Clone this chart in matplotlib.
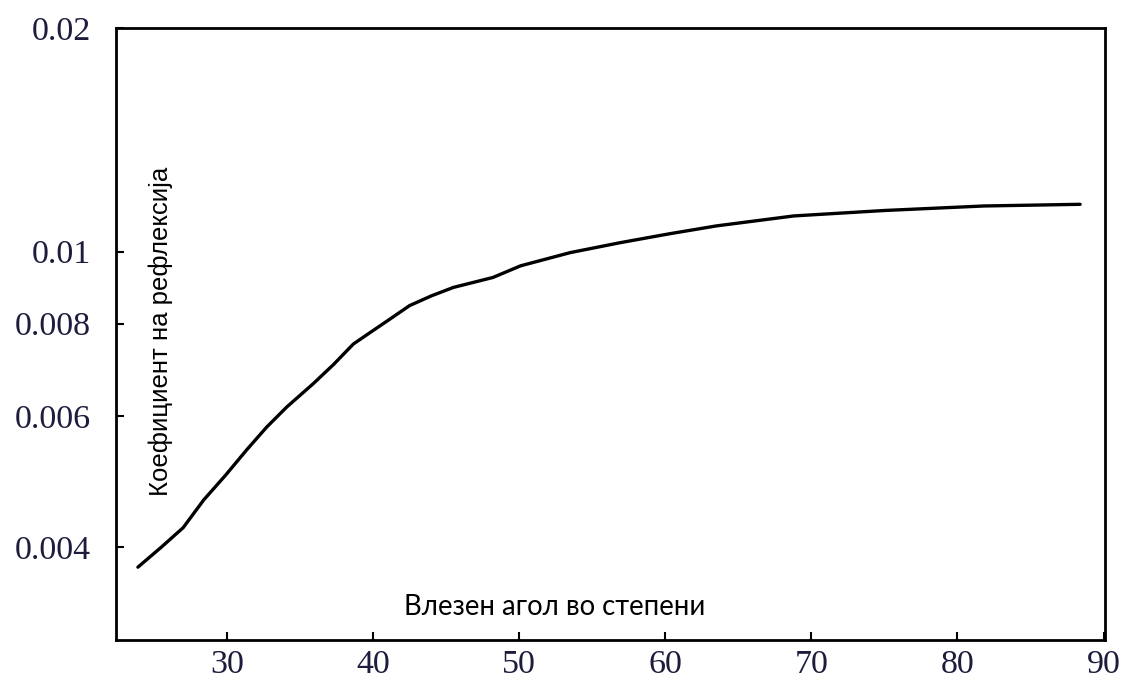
import matplotlib
matplotlib.use("Agg")
import matplotlib.pyplot as plt
from matplotlib.ticker import FixedLocator, FixedFormatter, NullLocator

# Data
angle_deg = [23.9, 25.5, 27.0, 28.4, 29.9, 31.35, 32.7, 34.1, 35.9, 37.3,
             38.65, 40.0, 41.3, 42.5, 44.0, 45.5, 48.2, 50.1, 53.5, 56.9,
             60.3, 63.5, 68.8, 75.0, 81.8, 88.4]
reflection = [0.00376, 0.00400, 0.00425, 0.00463, 0.00500, 0.00541, 0.00580,
              0.00618, 0.00664, 0.00705, 0.00751, 0.00783, 0.00815, 0.00846,
              0.00872, 0.00895, 0.00923, 0.00957, 0.00997, 0.01028, 0.01057,
              0.01083, 0.01117, 0.01136, 0.01152, 0.01158]

x_ticks = [30, 40, 50, 60, 70, 80, 90]
x_tick_labels = ["30", "40", "50", "60", "70", "80", "90"]
y_ticks = [0.004, 0.006, 0.008, 0.01, 0.02]
y_tick_labels = ["0.004", "0.006", "0.008", "0.01", "0.02"]

x_label = "Влезен агол во степени"
y_label = "Коефициент на рефлексија"

fig = plt.figure(figsize=(11.25, 6.87), dpi=100)
ax = fig.add_axes([0.1031, 0.0684, 0.8791, 0.8908])

ax.plot(angle_deg, reflection, color="black", linewidth=2.4,
        solid_capstyle="round", solid_joinstyle="round")

ax.set_yscale("log")
ax.set_xlim(22.4, 90.1)
ax.set_ylim(0.003, 0.02)

ax.yaxis.set_major_locator(FixedLocator(y_ticks))
ax.yaxis.set_major_formatter(FixedFormatter(y_tick_labels))
ax.yaxis.set_minor_locator(NullLocator())
ax.xaxis.set_major_locator(FixedLocator(x_ticks))
ax.xaxis.set_major_formatter(FixedFormatter(x_tick_labels))

tick_color = "#1c1c3c"
for lab in ax.get_xticklabels() + ax.get_yticklabels():
    lab.set_family("Liberation Serif")
    lab.set_fontsize(24.5)
    lab.set_color(tick_color)

ax.tick_params(axis="both", direction="in", length=6, width=1.5, color="black")
ax.tick_params(axis="y", pad=18)
ax.tick_params(axis="x", pad=7)

for s in ax.spines.values():
    s.set_linewidth(2.0)
    s.set_color("black")

ax.text(0.444, 0.054, x_label, transform=ax.transAxes, ha="center", va="center",
        family="Lato", fontsize=19.8, color="black")
ax.text(0.0455, 0.505, y_label, transform=ax.transAxes, ha="center", va="center",
        rotation=90, family="Liberation Sans", fontsize=18.5, color="black")

fig.savefig("out.png", dpi=100, facecolor="white")
